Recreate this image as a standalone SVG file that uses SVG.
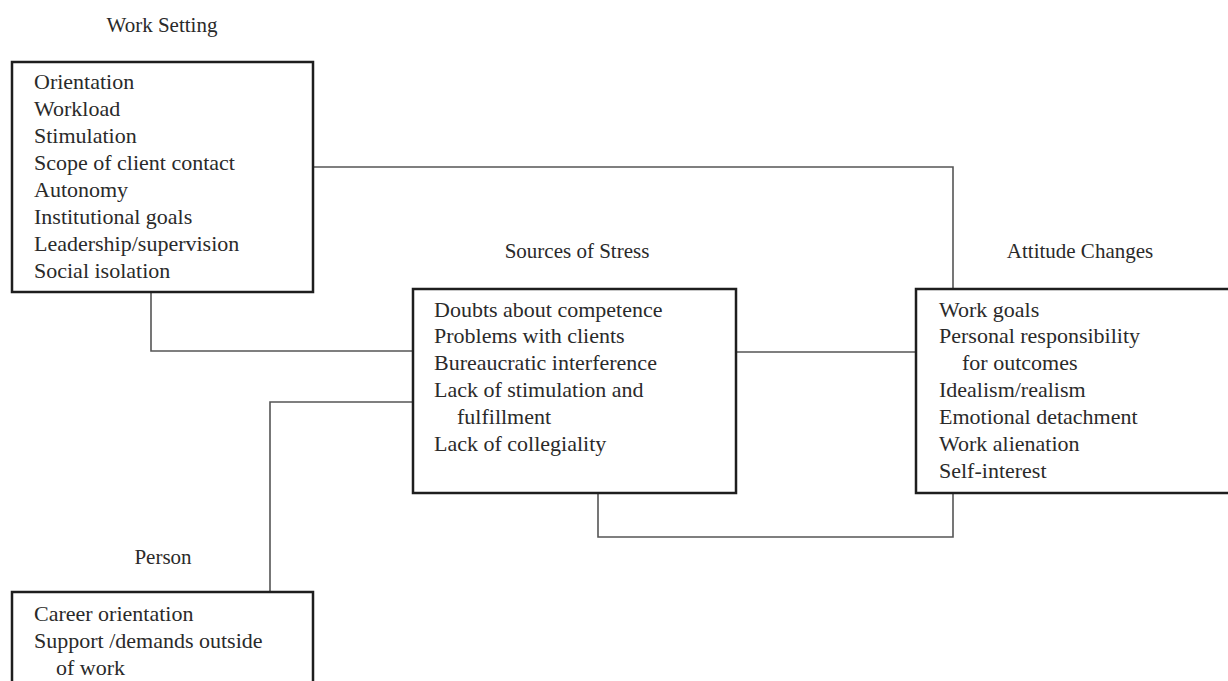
<svg xmlns="http://www.w3.org/2000/svg" width="1228" height="681" viewBox="0 0 1228 681">
<style>
.box{fill:#fff;stroke:#1e1e1e;stroke-width:2.5}
.conn{fill:none;stroke:#555;stroke-width:1.6}
text{font-family:"Liberation Serif","Times New Roman",serif;font-size:22px;fill:#2a2a2a}
.title{text-anchor:middle;font-size:21px}
</style>
<rect width="1228" height="681" fill="#fff"/>
<g id="connectors">
<polyline class="conn" points="313,167 953,167 953,289"/>
<polyline class="conn" points="151,292 151,351 413,351"/>
<polyline class="conn" points="736,352 916,352"/>
<polyline class="conn" points="413,402 270,402 270,592"/>
<polyline class="conn" points="598,493 598,537 953,537 953,493"/>
</g>
<g id="work-setting">
<text class="title" x="162" y="32">Work Setting</text>
<rect class="box" x="12" y="62" width="301" height="230"/>
<text x="34" y="89">Orientation</text>
<text x="34" y="116">Workload</text>
<text x="34" y="143">Stimulation</text>
<text x="34" y="170">Scope of client contact</text>
<text x="34" y="197">Autonomy</text>
<text x="34" y="224">Institutional goals</text>
<text x="34" y="251">Leadership/supervision</text>
<text x="34" y="278">Social isolation</text>
</g>
<g id="sources-of-stress">
<text class="title" x="577" y="258">Sources of Stress</text>
<rect class="box" x="413" y="289" width="323" height="204"/>
<text x="434" y="317">Doubts about competence</text>
<text x="434" y="343">Problems with clients</text>
<text x="434" y="370">Bureaucratic interference</text>
<text x="434" y="397">Lack of stimulation and</text>
<text x="457" y="424">fulfillment</text>
<text x="434" y="451">Lack of collegiality</text>
</g>
<g id="attitude-changes">
<text class="title" x="1080" y="258">Attitude Changes</text>
<rect class="box" x="916" y="289" width="330" height="204"/>
<text x="939" y="317">Work goals</text>
<text x="939" y="343">Personal responsibility</text>
<text x="962" y="370">for outcomes</text>
<text x="939" y="397">Idealism/realism</text>
<text x="939" y="424">Emotional detachment</text>
<text x="939" y="451">Work alienation</text>
<text x="939" y="478">Self-interest</text>
</g>
<g id="person">
<text class="title" x="163" y="564">Person</text>
<rect class="box" x="12" y="592" width="301" height="120"/>
<text x="34" y="621">Career orientation</text>
<text x="34" y="648">Support /demands outside</text>
<text x="56" y="675">of work</text>
</g>
</svg>
